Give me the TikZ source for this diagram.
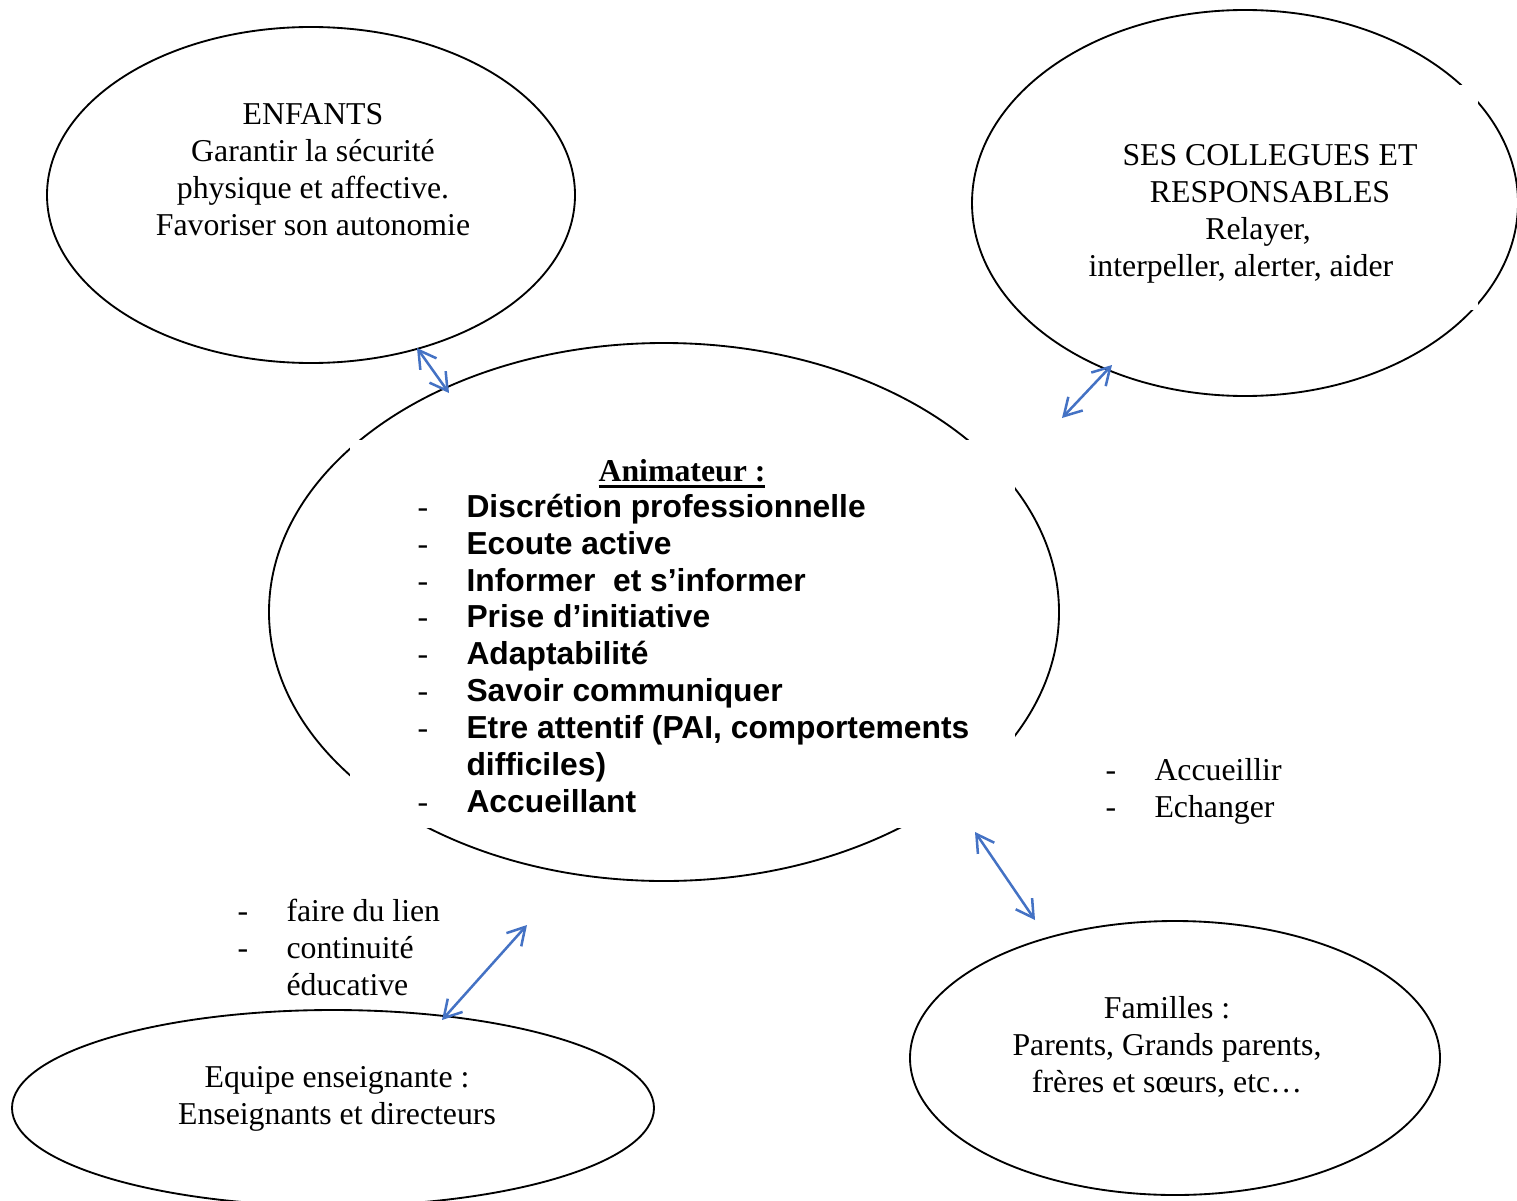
\documentclass[tikz,border=0pt]{standalone}
\usepackage{fontspec}
\setmainfont{Liberation Serif}
\newfontfamily\arialfont{Liberation Sans}
\usetikzlibrary{shapes.geometric,arrows.meta}
\definecolor{lienbleu}{RGB}{68,114,196}
\newcommand{\px}{0.3775pt}
\newcommand{\tiret}{\makebox[18.5pt][l]{\normalfont -}}
\newcommand{\souligne}[1]{\setbox0\hbox{#1}\rlap{\rule[-2.6pt]{\wd0}{1.1pt}}\box0}
\tikzset{
  bulle/.style={draw, ellipse, line width=0.7pt, inner sep=0pt},
  cache/.style={fill=white, inner sep=0pt},
  texte/.style={align=center, inner sep=0pt, font=\fontsize{12}{13.9}\selectfont},
  liste/.style={align=left, inner sep=0pt, font=\fontsize{12}{13.9}\selectfont},
  lien/.style={{Straight Barb[length=6.5pt,width=7.5pt]}-{Straight Barb[length=6.5pt,width=7.5pt]}, line width=0.95pt, draw=lienbleu},
}
\begin{document}
\begin{tikzpicture}[x=\px, y=-\px]
\clip (0,0) rectangle (1517,1200);
% les bulles
\node[bulle, minimum width=528*\px, minimum height=336*\px] (enfants) at (311,195) {};
\node[bulle, minimum width=546*\px, minimum height=386*\px] (collegues) at (1245,203) {};
\node[bulle, minimum width=790*\px, minimum height=538*\px] (anim) at (664,612) {};
\node[bulle, minimum width=642*\px, minimum height=196*\px] (equipe) at (333,1108) {};
\node[bulle, minimum width=530*\px, minimum height=274*\px] (familles) at (1175,1058) {};
% zones de texte (base = derniere ligne)
\node[cache, minimum width=665*\px, minimum height=388*\px] (animbox) at (682.5,634) {};
\node[cache, minimum width=416*\px, minimum height=225*\px] (collbox) at (1270,197.5) {};
\node[texte, anchor=base] (tenfants) at (313,235) {ENFANTS\\Garantir la sécurité\\physique et affective.\\Favoriser son autonomie};
\node[texte, anchor=base] (tcollegues) at (1270,276) {SES COLLEGUES ET\\RESPONSABLES\\Relayer,\hspace*{9pt}\null\\interpeller, alerter, aider\hspace*{22pt}};
\node[texte, anchor=base] (ttitre) at (682,481) {\bfseries\souligne{Animateur :}};
\node[liste, anchor=base west, font=\fontsize{12}{13.9}\selectfont\arialfont\bfseries] (tanim) at (417,812) {\tiret Discrétion professionnelle\\
\tiret Ecoute active\\
\tiret Informer \ et s’informer\\
\tiret Prise d’initiative\\
\tiret Adaptabilité\\
\tiret Savoir communiquer\\
\tiret Etre attentif (PAI, comportements\\
\hspace*{18.5pt}difficiles)\\
\tiret Accueillant};
\node[liste, anchor=base west] (tfam) at (1105,817) {\tiret Accueillir\\\tiret Echanger};
\node[liste, anchor=base west] (tens) at (237,995) {\tiret faire du lien\\\tiret continuité\\\hspace*{18.5pt}éducative};
\node[texte, anchor=base] (tequipe) at (337,1124) {Equipe enseignante :\\Enseignants et directeurs};
\node[texte, anchor=base] (tfamilles) at (1167,1092) {Familles :\\Parents, Grands parents,\\frères et sœurs, etc…};
% les liens
\coordinate (l1a) at (417,348);
\coordinate (l1b) at (449,393);
\coordinate (l2a) at (1062,418);
\coordinate (l2b) at (1112,365);
\coordinate (l3a) at (975,832);
\coordinate (l3b) at (1035,920);
\coordinate (l4a) at (442,1020);
\coordinate (l4b) at (527,925);
\draw[lien] (l1a) -- (l1b);
\draw[lien] (l2a) -- (l2b);
\draw[lien] (l3a) -- (l3b);
\draw[lien] (l4a) -- (l4b);
\end{tikzpicture}
\end{document}
